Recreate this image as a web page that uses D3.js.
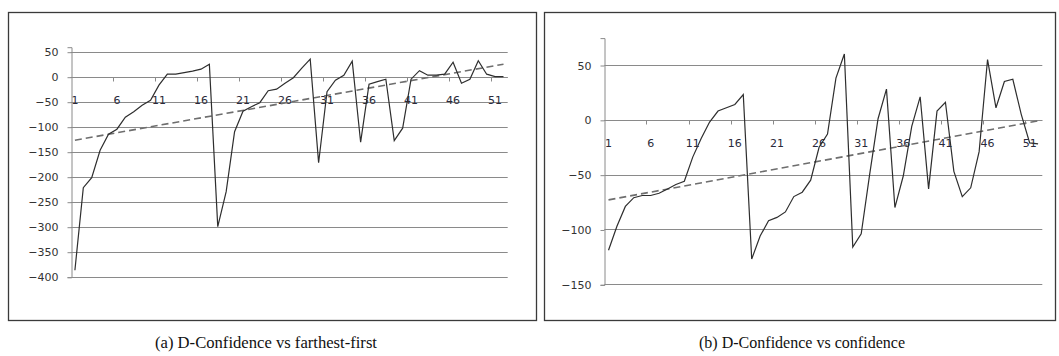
<!DOCTYPE html>
<html>
<head>
<meta charset="utf-8">
<script src="https://cdn.jsdelivr.net/npm/d3@7/dist/d3.min.js"></script>
<style>
  html, body { margin: 0; padding: 0; background: #fff; }
  svg { display: block; }
</style>
</head>
<body>
<svg id="fig" width="1059" height="356"></svg>
<script>
// Question numbers along the category axis
const categories = d3.range(1, 53);
const categoryTickLabels = [1, 6, 11, 16, 21, 26, 31, 36, 41, 46, 51];

// (a) D-Confidence vs farthest-first
const farthestFirstDiff = [
  -387, -222, -202, -147, -115, -105, -81, -70, -57, -47,
  -17, 5, 5, 8, 11, 15, 25, -300, -230, -110,
  -69, -60, -52, -28, -25, -13, -2, 17, 35, -172,
  -30, -7, 3, 31, -131, -15, -10, -5, -128, -103,
  -5, 12, 3, 3, 5, 29, -13, -5, 32, 5,
  0, 0
];
const farthestFirstTrend = [-127, 25];   // linear trend at first / last category
const farthestFirstTicks = [50, 0, -50, -100, -150, -200, -250, -300, -350, -400];

// (b) D-Confidence vs confidence
const confidenceDiff = [
  -119, -97, -79, -71, -69, -69, -67, -63, -59, -56,
  -34, -17, -2, 8, 11, 14, 23, -127, -106, -92,
  -89, -84, -70, -66, -55, -25, -13, 38, 60, -116,
  -104, -50, 1, 28, -80, -51, -6, 21, -63, 8,
  16, -47, -70, -62, -29, 55, 11, 35, 37, 5,
  -21, -22
];
const confidenceTrend = [-73, -1];
const confidenceTicks = [50, 0, -50, -100, -150];

const captions = ["(a) D-Confidence vs farthest-first", "(b) D-Confidence vs confidence"];

const svg = d3.select("#fig");

function drawPanel(cfg) {
  const g = svg.append("g");

  // outer frame
  g.append("rect")
    .attr("x", cfg.frame[0] + 0.5).attr("y", cfg.frame[1] + 0.5)
    .attr("width", cfg.frame[2] - cfg.frame[0]).attr("height", cfg.frame[3] - cfg.frame[1])
    .attr("fill", "none").attr("stroke", "#3a3a3a").attr("stroke-width", 1.3);

  const x = d3.scaleBand().domain(categories).range([cfg.left, cfg.right]).padding(0);
  const y = d3.scaleLinear().domain(cfg.yDomain).range(cfg.yRange);
  const cx = c => x(c) + x.bandwidth() / 2;

  // horizontal gridlines
  g.selectAll("line.grid").data(cfg.ticks).join("line")
    .attr("class", "grid")
    .attr("x1", cfg.left).attr("x2", cfg.right)
    .attr("y1", d => Math.round(y(d)) + 0.5).attr("y2", d => Math.round(y(d)) + 0.5)
    .attr("stroke", "#8a8a8a").attr("stroke-width", 1);

  // value axis
  const yAxis = d3.axisLeft(y).tickValues(cfg.ticks).tickSize(4).tickPadding(9)
    .tickFormat(d3.format("d"));
  const ya = g.append("g").attr("transform", `translate(${Math.round(cfg.left) + 0.5},0.5)`).call(yAxis);
  ya.select(".domain").attr("stroke", "#8a8a8a");
  ya.selectAll(".tick line").attr("stroke", "#8a8a8a");
  ya.selectAll(".tick text")
    .attr("font-family", "DejaVu Sans, Verdana, sans-serif").attr("font-size", 11)
    .attr("fill", "#333");

  // category axis crossing at zero
  const y0 = Math.round(y(0)) + 0.5;
  g.append("line").attr("x1", cfg.left).attr("x2", cfg.right)
    .attr("y1", y0).attr("y2", y0).attr("stroke", "#8a8a8a");
  const boundaries = categories.filter(c => c % 5 === 0).map(c => x(c) + x.bandwidth());
  g.selectAll("line.ctick").data(boundaries).join("line")
    .attr("class", "ctick")
    .attr("x1", d => Math.round(d) + 0.5).attr("x2", d => Math.round(d) + 0.5)
    .attr("y1", y0).attr("y2", y0 + 4)
    .attr("stroke", "#8a8a8a");
  g.selectAll("text.clabel").data(categoryTickLabels).join("text")
    .attr("class", "clabel")
    .attr("x", d => cx(d)).attr("y", y0 + cfg.labelOffset)
    .attr("text-anchor", "middle").attr("dominant-baseline", "central")
    .attr("font-family", "DejaVu Sans, Verdana, sans-serif").attr("font-size", 11)
    .attr("fill", "#2a2a3a")
    .text(d => d);

  // trend line
  const first = categories[0], last = categories[categories.length - 1];
  g.append("line")
    .attr("x1", cx(first)).attr("y1", y(cfg.trend[0]))
    .attr("x2", cx(last)).attr("y2", y(cfg.trend[1]))
    .attr("stroke", "#6e6e6e").attr("stroke-width", 1.6)
    .attr("stroke-dasharray", "7,4");

  // series line
  const line = d3.line().x((d, i) => cx(categories[i])).y(d => y(d));
  g.append("path").datum(cfg.values)
    .attr("d", line)
    .attr("fill", "none").attr("stroke", "#2e2e2e").attr("stroke-width", 1.2)
    .attr("stroke-linejoin", "miter");

  // caption
  svg.append("text")
    .attr("x", cfg.captionX).attr("y", 348)
    .attr("text-anchor", "middle")
    .attr("font-family", "Liberation Serif, Times New Roman, serif")
    .attr("font-size", 17).attr("fill", "#111")
    .attr("textLength", cfg.captionWidth).attr("lengthAdjust", "spacingAndGlyphs")
    .text(cfg.caption);
}

drawPanel({
  frame: [8, 12, 536, 320],
  left: 70.7, right: 507.7,
  yDomain: [-400, 60], yRange: [276.7, 46.7],
  ticks: farthestFirstTicks,
  values: farthestFirstDiff,
  trend: farthestFirstTrend,
  labelOffset: 23,
  caption: captions[0], captionX: 266, captionWidth: 222
});

drawPanel({
  frame: [544, 12, 1055, 320],
  left: 604.3, right: 1042.3,
  yDomain: [-150, 75], yRange: [284.3, 37.6],
  ticks: confidenceTicks,
  values: confidenceDiff,
  trend: confidenceTrend,
  labelOffset: 23,
  caption: captions[1], captionX: 802, captionWidth: 206
});
</script>
</body>
</html>
